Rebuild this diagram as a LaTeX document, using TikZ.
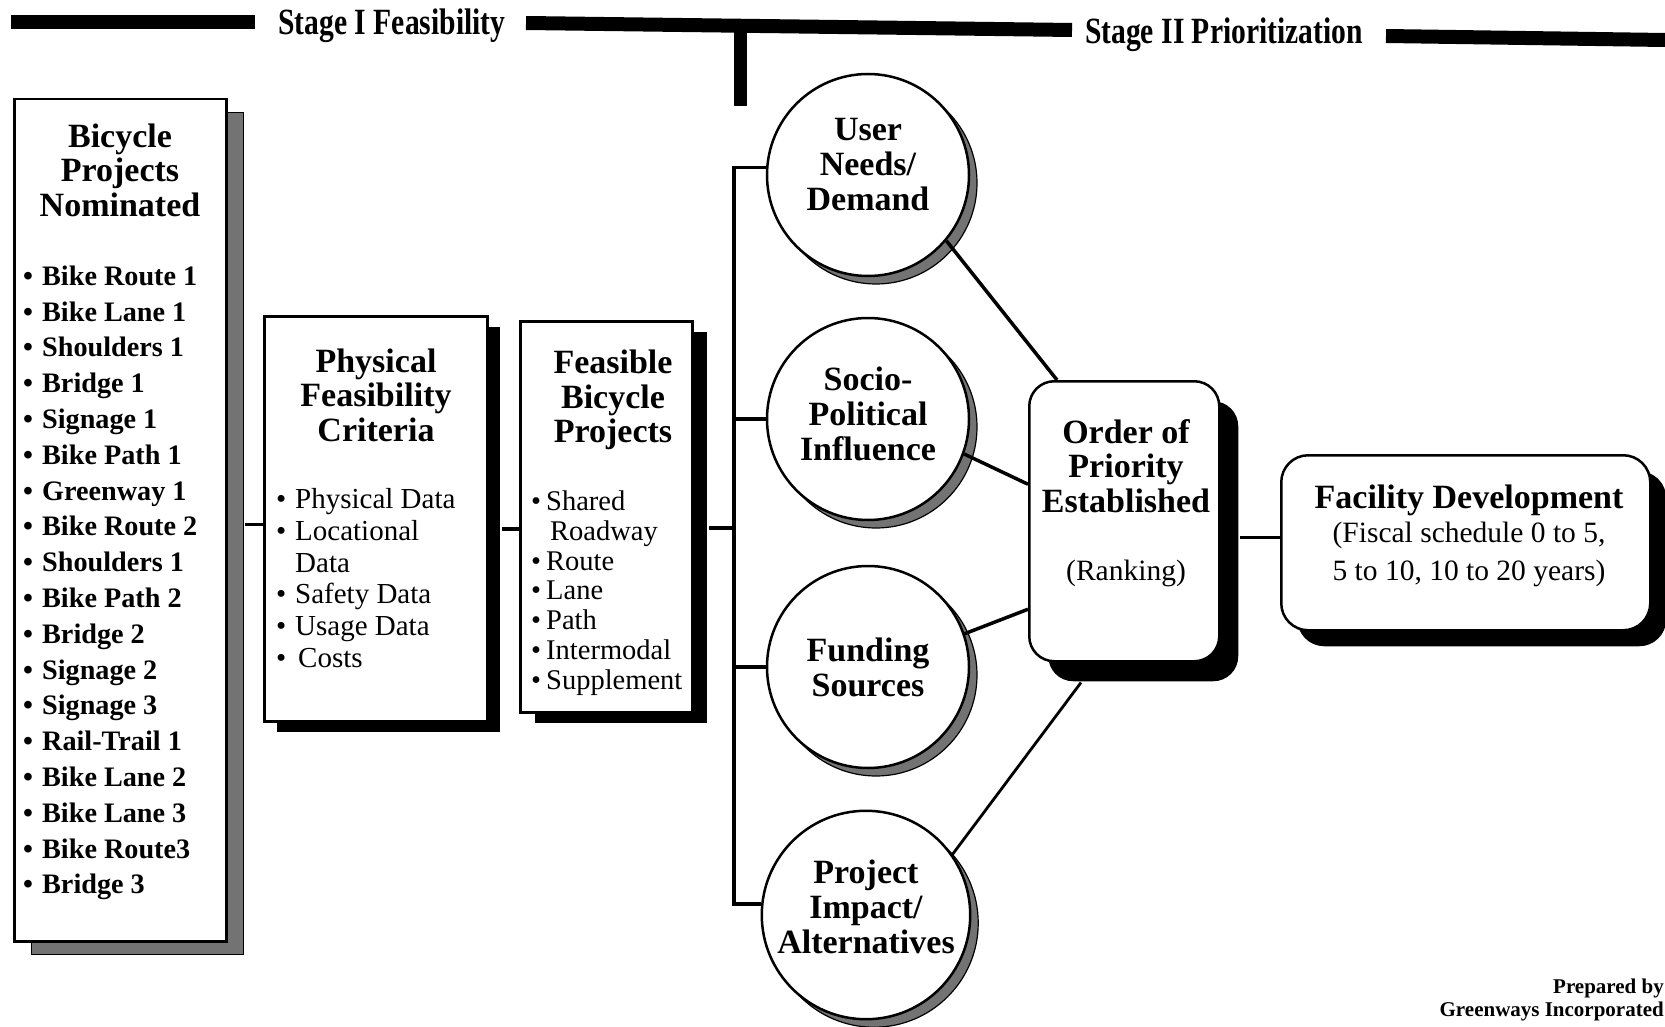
\documentclass[tikz,border=0pt]{standalone}
\usepackage{graphicx}
\usepackage{fontspec}
\setmainfont{Liberation Serif}
\usetikzlibrary{shadows,calc}
\newcommand{\nb}{\makebox[19pt][l]{•}}
\newcommand{\pb}{\makebox[19pt][l]{•}}
\newcommand{\pin}{\hspace*{19pt}}
\newcommand{\fb}{\makebox[15pt][l]{•}}
\newcommand{\fin}{\hspace*{19pt}}
\newcommand{\extradepth}[1]{\rule[-#1]{0pt}{#1}}
\begin{document}
\begin{tikzpicture}[x=1pt,y=-1pt,
  bar/.style={line width=14pt},
  stemline/.style={line width=13pt},
  stagetxt/.style={inner sep=0pt},
  sqbox/.style={draw, line width=2.5pt, fill=white, inner sep=0pt, anchor=north west},
  hd/.style={font=\fontsize{34pt}{34.5pt}\selectfont\bfseries, align=center, inner sep=0pt},
  nomlist/.style={font=\fontsize{28.2pt}{35.8pt}\selectfont\bfseries, align=left, inner sep=0pt, anchor=west},
  physlist/.style={font=\fontsize{29pt}{31.8pt}\selectfont, align=left, inner sep=0pt, anchor=west},
  feaslist/.style={font=\fontsize{28.5pt}{29.8pt}\selectfont, align=left, inner sep=0pt, anchor=west},
  regtxt/.style={font=\fontsize{29.5pt}{38pt}\selectfont, align=center, inner sep=0pt},
  circ/.style={circle, draw, line width=2.5pt, fill=white, minimum size=202pt, inner sep=0pt,
    font=\fontsize{34pt}{35pt}\selectfont\bfseries, align=center,
    drop shadow={shadow xshift=8pt, shadow yshift=-8pt, fill=black!55, draw=black, line width=1.2pt, opacity=1}},
  conn/.style={line width=3.5pt},
  trunkline/.style={line width=3.2pt}
]
\path[use as bounding box, fill=white] (0,0) rectangle (1665,1027);

% top bars
\coordinate (b1s) at (11,22); \coordinate (b1e) at (255,22);
\coordinate (b2s) at (526,23); \coordinate (b2e) at (1072,30);
\coordinate (b3s) at (1386,36); \coordinate (b3e) at (1665,40);
\coordinate (stemtop) at (740,24); \coordinate (stembot) at (740,106);
\draw[bar] (b1s) -- (b1e);
\draw[bar] (b2s) -- (b2e);
\draw[bar] (b3s) -- (b3e);
\draw[stemline] (stemtop) -- (stembot);
\node[stagetxt] (st1) at (392,26) {\scalebox{0.8}[1]{\fontsize{37pt}{37pt}\selectfont\bfseries Stage I Feasibility}};
\node[stagetxt] (st2) at (1224,35) {\scalebox{0.8}[1]{\fontsize{37pt}{37pt}\selectfont\bfseries Stage II Prioritization}};

% left box
\node[sqbox, minimum width=212pt, minimum height=842pt,
  drop shadow={shadow xshift=17pt, shadow yshift=-13pt, fill=black!55, draw=black, line width=1pt, opacity=1}]
  (nom) at (13,98) {};
\node[hd] (nomh) at (120,170) {Bicycle\\Projects\\Nominated};
\node[nomlist] (noml) at (23,583) {\nb Bike Route 1\\\nb Bike Lane 1\\\nb Shoulders 1\\\nb Bridge 1\\\nb Signage 1\\\nb Bike Path 1\\\nb Greenway 1\\\nb Bike Route 2\\\nb Shoulders 1\\\nb Bike Path 2\\\nb Bridge 2\\\nb Signage 2\\\nb Signage 3\\\nb Rail-Trail 1\\\nb Bike Lane 2\\\nb Bike Lane 3\\\nb Bike Route3\\\nb Bridge 3};

% physical feasibility box
\node[sqbox, minimum width=223pt, minimum height=405pt,
  drop shadow={shadow xshift=13pt, shadow yshift=-11pt, fill=black, opacity=1}]
  (phys) at (263,315) {};
\node[hd] (physh) at (376,395) {Physical\\Feasibility\\Criteria};
\node[physlist] (physl) at (276,578) {\pb Physical Data\\\pb Locational\\\pin Data\\\pb Safety Data\\\pb Usage Data\\\pb\hspace{3pt}Costs};

% feasible projects box
\node[sqbox, minimum width=172pt, minimum height=391pt,
  drop shadow={shadow xshift=15pt, shadow yshift=-11pt, fill=black, opacity=1}]
  (feas) at (519,320) {};
\node[hd] (feash) at (613,400) {Feasible\\Bicycle\\Projects};
\node[feaslist] (feasl) at (531,593) {\fb Shared\\\fin Roadway\\\fb Route\\\fb Lane\\\fb Path\\\fb Intermodal\\\fb Supplement};

% circles
\node[circ] (user) at (868,175) {User\\Needs/\\Demand\extradepth{22pt}};
\node[circ] (socio) at (868,419) {Socio-\\Political\\Influence\extradepth{10pt}};
\node[circ] (fund) at (868,667) {Funding\\Sources};
\node[circ] (proj) at (866,915) {Project\\Impact/\\Alternatives\extradepth{16pt}};

% order box
\node[sqbox, rounded corners=25pt, minimum width=190pt, minimum height=280pt,
  drop shadow={shadow xshift=19pt, shadow yshift=-20pt, fill=black, opacity=1}]
  (order) at (1028,380) {};
\node[hd] (ordh) at (1126,466) {Order of\\Priority\\Established};
\node[regtxt] (ordr) at (1126,573) {(Ranking)};

% facility box
\node[sqbox, rounded corners=27pt, minimum width=369pt, minimum height=175pt,
  drop shadow={shadow xshift=16pt, shadow yshift=-16pt, fill=black, opacity=1}]
  (fac) at (1280,454) {};
\node[hd] (fach) at (1469,500) {Facility Development};
\node[regtxt] (facr) at (1469,554) {(Fiscal schedule 0 to 5,\\5 to 10, 10 to 20 years)};

% credit
\node[font=\fontsize{21pt}{22.5pt}\selectfont\bfseries, align=right, inner sep=0pt, anchor=east] (credit) at (1664,1000) {Prepared by\\Greenways Incorporated};

% connectors
\coordinate (tk) at (734,528);
\draw[conn] ([yshift=-5.5pt]phys.west) -- ($(phys.west -| nom.east)+(17,5.5)$);
\draw[conn] ([yshift=-12pt]feas.west) -- ($(feas.west -| phys.east)+(13,12)$);
\draw[conn] (tk) -- ($(feas.east |- tk)+(15,0)$);
\draw[trunkline] (user.176) -| (tk) |- (proj.174);
\draw[trunkline] (socio.west) -- (socio.west -| tk);
\draw[trunkline] (fund.west) -- (fund.west -| tk);
\draw[conn] (user.-40) -- ($(order.north west)+(29,0)$);
\draw[conn] (socio.-20) -- ([yshift=37pt]order.west);
\draw[conn] (fund.19) -- ([yshift=-88pt]order.west);
\draw[line width=2.8pt] (proj.35) -- ($(order.south west)+(53,20)$);
\draw[conn] ([yshift=5.5pt]fac.west) -- ($(fac.west -| order.east)+(19,-5.5)$);
\end{tikzpicture}
\end{document}
